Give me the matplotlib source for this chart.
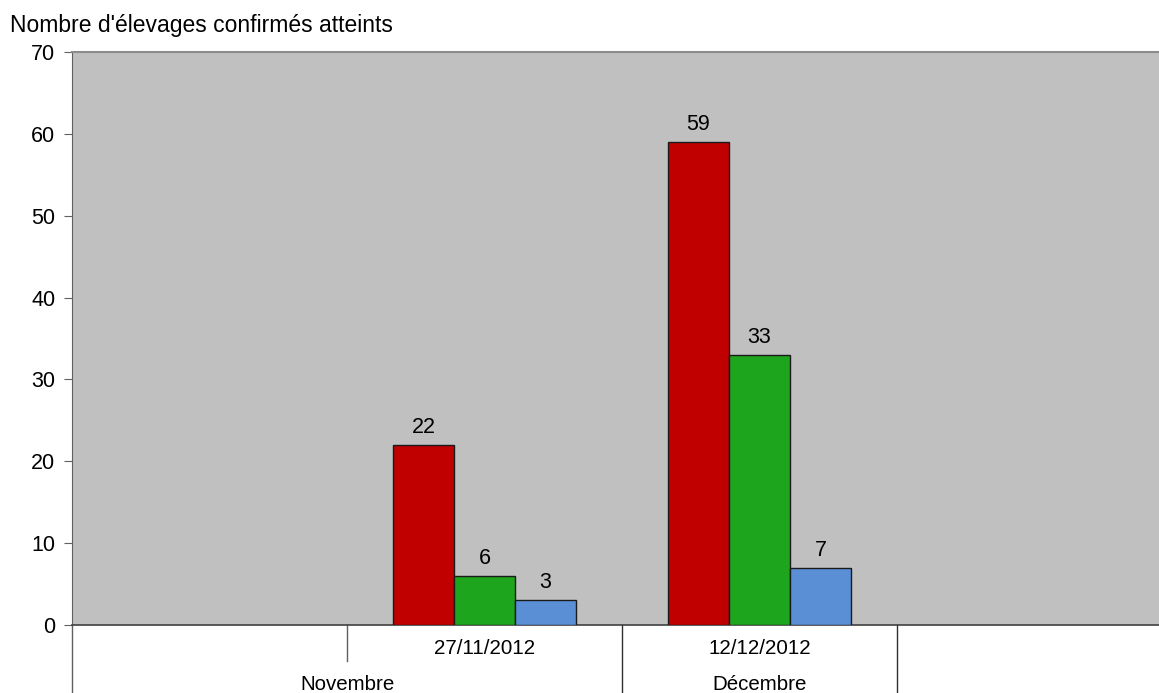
import matplotlib
matplotlib.use("Agg")
import matplotlib.pyplot as plt
import matplotlib.transforms as mtransforms
import numpy as np

plt.rcParams['font.family'] = ['Liberation Sans', 'DejaVu Sans']

# Dati
dates = ["", "27/11/2012", "12/12/2012", ""]
months = ["Novembre", "Décembre"]
month_slots = [(0, 1), (2, 2)]
serie_rouge = [np.nan, 22, 59, np.nan]
serie_verte = [np.nan, 6, 33, np.nan]
serie_bleue = [np.nan, 3, 7, np.nan]

fig = plt.figure(figsize=(11.59, 6.93), dpi=100)
ax = fig.add_axes([72 / 1159, 1 - 625 / 693, 1 - 72 / 1159, (625 - 52) / 693])
ax.set_facecolor('#c0c0c0')

x = np.arange(len(dates))
w = 0.222
series = [(serie_rouge, '#c00000'), (serie_verte, '#1ea51e'), (serie_bleue, '#5a8fd6')]
for k, (vals, col) in enumerate(series):
    pos = x + (k - 1) * w
    ax.bar(pos, vals, width=w, color=col, edgecolor='#1a1a1a', linewidth=1, zorder=3)
    for xi, v in zip(pos, vals):
        if not np.isnan(v):
            ax.annotate(f"{int(v)}", (xi, v), xytext=(0, 5), textcoords='offset points',
                        ha='center', va='bottom', fontsize=15.5)

ax.set_xlim(-0.5, -0.5 + (1159 - 72) / 275)
ax.set_ylim(0, 70)
ax.set_yticks(range(0, 71, 10))
ax.tick_params(axis='y', labelsize=15.5, length=6, color='#606060', pad=6)
ax.set_xticks([])

ax.spines['right'].set_visible(False)
ax.spines['top'].set_color('#8c8c8c')
ax.spines['top'].set_linewidth(1.5)
ax.spines['left'].set_color('#606060')
ax.spines['bottom'].set_color('#404040')
ax.spines['bottom'].set_linewidth(1.2)

# Axe des catégories à deux niveaux
trans = mtransforms.blended_transform_factory(ax.transData, ax.transAxes)
y_bas = -68 / 573
ax.plot([-0.5, -0.5], [0, y_bas], transform=trans, color='#606060', lw=1, clip_on=False)
ax.plot([0.5, 0.5], [0, -36 / 573], transform=trans, color='#606060', lw=1, clip_on=False)
for b in [1.5, 2.5]:
    ax.plot([b, b], [0, y_bas], transform=trans, color='#303030', lw=1, clip_on=False)

for xi, d in zip(x, dates):
    if d:
        ax.text(xi, -23 / 573, d, transform=trans, ha='center', va='center', fontsize=14.8)
for m, (a, b) in zip(months, month_slots):
    ax.text((a + b) / 2, -59 / 573, m, transform=trans, ha='center', va='center', fontsize=14.8)

fig.text(10 / 1159, 1 - 32 / 693, "Nombre d'élevages confirmés atteints", ha='left', va='baseline', fontsize=16.5)

fig.savefig('out.png', dpi=100)
